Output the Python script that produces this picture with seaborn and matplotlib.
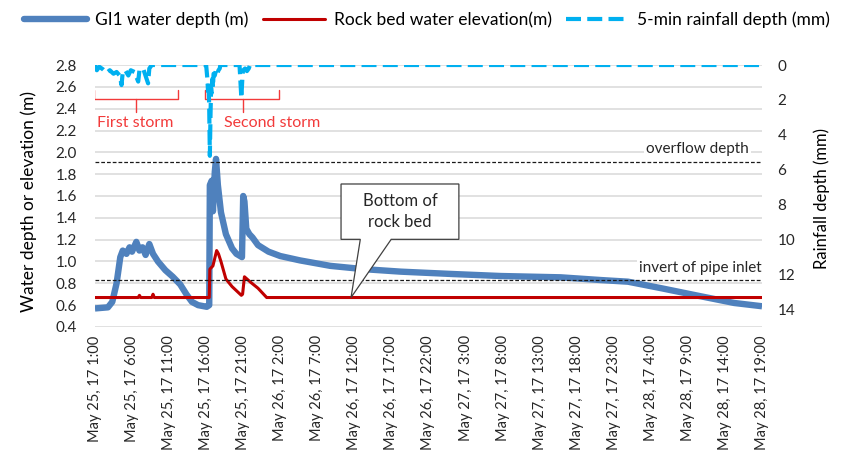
import numpy as np
import pandas as pd
import matplotlib
matplotlib.use("Agg")
import matplotlib.pyplot as plt
import matplotlib.dates as mdates
from matplotlib.patches import Polygon
from matplotlib.lines import Line2D
import seaborn as sns

# ---- GI1 water depth (m) ----
gi1_time = [
    "05-25 01:00", "05-25 02:45", "05-25 03:20", "05-25 03:55", "05-25 04:25",
    "05-25 04:45", "05-25 05:15", "05-25 05:40", "05-25 06:00", "05-25 06:35",
    "05-25 07:00", "05-25 07:25", "05-25 07:50", "05-25 08:20", "05-25 08:50",
    "05-25 09:30", "05-25 10:30", "05-25 11:30", "05-25 12:30", "05-25 13:20",
    "05-25 14:05", "05-25 14:55", "05-25 16:05", "05-25 16:25", "05-25 16:30",
    "05-25 16:45", "05-25 16:55", "05-25 17:10", "05-25 17:20", "05-25 17:35",
    "05-25 18:00", "05-25 18:40", "05-25 19:30", "05-25 20:05", "05-25 20:50",
    "05-25 21:00", "05-25 21:10", "05-25 21:25", "05-25 21:50", "05-25 22:15",
    "05-25 23:00", "05-26 00:25", "05-26 02:00", "05-26 04:40", "05-26 08:45",
    "05-26 13:15", "05-26 18:15", "05-27 01:00", "05-27 07:45", "05-27 15:50",
    "05-27 21:15", "05-28 00:55", "05-28 05:25", "05-28 10:50", "05-28 15:15",
    "05-28 19:00",
]
gi1_depth = [
    0.57, 0.58, 0.63, 0.80, 1.04,
    1.10, 1.07, 1.13, 1.09, 1.18,
    1.10, 1.13, 1.06, 1.16, 1.07,
    1.00, 0.92, 0.86, 0.79, 0.70,
    0.63, 0.60, 0.585, 0.60, 1.70,
    1.74, 1.46, 1.82, 1.94, 1.70,
    1.45, 1.25, 1.12, 1.07, 1.04,
    1.60, 1.55, 1.30, 1.25, 1.22,
    1.15, 1.09, 1.05, 1.01, 0.96,
    0.93, 0.907, 0.886, 0.867, 0.855,
    0.83, 0.815, 0.755, 0.68, 0.62,
    0.59,
]

# ---- Rock bed water elevation (m) ----
rock_time = [
    "05-25 01:00", "05-25 06:50", "05-25 07:00", "05-25 07:10", "05-25 08:40",
    "05-25 08:50", "05-25 09:00", "05-25 16:25", "05-25 16:30", "05-25 16:55",
    "05-25 17:25", "05-25 17:40", "05-25 18:00", "05-25 18:40", "05-25 19:30",
    "05-25 20:45", "05-25 20:55", "05-25 21:10", "05-25 22:00", "05-25 23:00",
    "05-26 00:10", "05-28 19:00",
]
rock_elev = [
    0.67, 0.67, 0.69, 0.67, 0.67,
    0.70, 0.67, 0.67, 0.93, 0.96,
    1.10, 1.07, 1.00, 0.84, 0.77,
    0.69, 0.70, 0.86, 0.81, 0.755,
    0.67, 0.67,
]

# ---- 5-min rainfall depth (mm) ----
rain_time = [
    "05-25 01:00", "05-25 01:15", "05-25 01:35", "05-25 02:05", "05-25 02:35",
    "05-25 03:00", "05-25 03:30", "05-25 03:55", "05-25 04:20", "05-25 04:35",
    "05-25 04:45", "05-25 05:05", "05-25 05:30", "05-25 05:50", "05-25 06:20",
    "05-25 06:50", "05-25 07:00", "05-25 07:30", "05-25 08:10", "05-25 08:20",
    "05-25 08:40", "05-25 16:00", "05-25 16:05", "05-25 16:10", "05-25 16:15",
    "05-25 16:20", "05-25 16:25", "05-25 16:30", "05-25 16:35", "05-25 16:40",
    "05-25 16:45", "05-25 16:50", "05-25 16:55", "05-25 17:00", "05-25 17:10",
    "05-25 17:20", "05-25 17:30", "05-25 17:40", "05-25 17:50", "05-25 17:55",
    "05-25 20:30", "05-25 20:35", "05-25 20:45", "05-25 20:50", "05-25 20:55",
    "05-25 21:00", "05-25 21:15", "05-25 21:30", "05-25 21:45", "05-25 21:55",
    "05-28 19:00",
]
rain_depth = [
    0.0, 0.3, 0.1, 0.25, 0.45,
    0.3, 0.5, 0.4, 0.6, 1.15,
    0.4, 0.3, 0.6, 0.3, 0.4,
    0.95, 0.3, 0.2, 1.05, 0.2,
    0.0, 0.0, 0.4, 0.8, 1.5,
    1.0, 2.5, 5.2, 3.0, 1.3,
    1.6, 0.8, 1.3, 0.5, 0.6,
    0.3, 0.5, 0.3, 0.2, 0.0,
    0.0, 0.6, 1.9, 1.2, 0.5,
    0.3, 0.2, 0.35, 0.2, 0.0,
    0.0,
]

# reference levels (m)
overflow_depth = 1.91
pipe_invert = 0.83
rock_bed_bottom = 0.67

series_names = ["GI1 water depth (m)", "Rock bed water elevation(m)",
                "5-min rainfall depth (mm)"]

YEAR = "2017-"
def to_ts(lst):
    return pd.to_datetime([YEAR + s for s in lst])

gi1_df = pd.DataFrame({"time": to_ts(gi1_time), "value": gi1_depth})
rock_df = pd.DataFrame({"time": to_ts(rock_time), "value": rock_elev})
rain_df = pd.DataFrame({"time": to_ts(rain_time), "value": rain_depth})

BLUE = "#4F81BD"
RED = "#C00000"
CYAN = "#00B0F0"
STORM = "#F23A3A"
TXT = "#262626"
BLUE_LW, RED_LW, RAIN_LW = 4.6, 2.2, 3.0

sns.set_theme(style="white")
plt.rcParams["font.family"] = ["Lato", "DejaVu Sans"]

fig = plt.figure(figsize=(8.54, 4.68), dpi=100)
ax = fig.add_axes([0.1112, 0.3013, 0.7811, 0.5598])

sns.lineplot(data=gi1_df, x="time", y="value", ax=ax, color=BLUE, linewidth=BLUE_LW,
             legend=False, solid_joinstyle="round", solid_capstyle="butt", zorder=3)
sns.lineplot(data=rock_df, x="time", y="value", ax=ax, color=RED, linewidth=RED_LW,
             legend=False, solid_joinstyle="round", zorder=4)

ax2 = ax.twinx()
sns.lineplot(data=rain_df, x="time", y="value", ax=ax2, color=CYAN, linewidth=RAIN_LW,
             legend=False, zorder=5)
rain_dashes = (3.6, 1.5)
ax2.lines[-1].set_dashes(rain_dashes)
ax2.lines[-1].set_dash_capstyle("butt")

# axes ranges and ticks
t0 = pd.Timestamp("2017-05-25 01:00")
t1 = pd.Timestamp("2017-05-28 19:00")
ax.set_xlim(t0, t1)
ax.set_ylim(0.4, 2.8)
ax.set_yticks(np.arange(0.4, 2.81, 0.2))
ax.set_yticklabels([f"{v:.1f}" for v in np.arange(0.4, 2.81, 0.2)])
ax2.set_ylim(15, 0)
ax2.set_yticks(np.arange(0, 15, 2))

tick_times = pd.date_range(t0, t1, freq="5h")
tick_labels = [f"{d:%b} {d.day}, {d:%y} {d.hour}:{d:%M}" for d in tick_times]
ax.set_xticks(tick_times)
ax.set_xticklabels(tick_labels, rotation=90, ha="center", va="top")

ax.grid(axis="y", color="#D9D9D9", linewidth=1.1)
ax.grid(axis="x", visible=False)
ax.set_axisbelow(True)
for a in (ax, ax2):
    for s in a.spines.values():
        s.set_visible(False)
ax2.grid(False)

ax.tick_params(axis="x", length=0, pad=6, labelsize=10.5, labelcolor=TXT)
ax.tick_params(axis="y", length=0, pad=13, labelsize=11, labelcolor=TXT)
ax2.tick_params(axis="y", length=0, pad=11, labelsize=11, labelcolor=TXT)

ax.set_xlabel("")
ax.set_ylabel("Water depth or elevation (m)", fontsize=12.5, color="black")
ax.yaxis.set_label_coords(-0.087, 0.48)
ax2.set_ylabel("Rainfall depth (mm)", fontsize=12, color="black")
ax2.yaxis.set_label_coords(1.0765, 0.49)

# reference levels
dash_ref = dict(color="#1A1A1A", linewidth=0.9, dashes=(3, 1.6), zorder=6)
ax.axhline(overflow_depth, **dash_ref)
ax.axhline(pipe_invert, **dash_ref)
ax.text(pd.Timestamp("2017-05-28 17:15"), overflow_depth + 0.12, "overflow depth",
        ha="right", va="center", fontsize=11, color=TXT, zorder=6,
        bbox=dict(facecolor="white", edgecolor="none", pad=1.5))
ax.text(pd.Timestamp("2017-05-28 18:55"), pipe_invert + 0.11, "invert of pipe inlet",
        ha="right", va="center", fontsize=11, color=TXT, zorder=6,
        bbox=dict(facecolor="white", edgecolor="none", pad=1.5))

# storm brackets
def bracket(x_left, x_mid, x_right, label, x_text):
    xl, xm, xr = (mdates.date2num(pd.Timestamp(v)) for v in (x_left, x_mid, x_right))
    ax.plot([xl, xl, xr, xr], [2.571, 2.489, 2.489, 2.571], color=STORM,
            linewidth=1.0, zorder=4, solid_joinstyle="round")
    ax.plot([xm, xm], [2.489, 2.372], color=STORM, linewidth=1.0, zorder=4)
    ax.text(pd.Timestamp(x_text), 2.27, label, ha="left", va="center",
            fontsize=11.5, color=STORM, zorder=4)

bracket("2017-05-25 00:55", "2017-05-25 06:32", "2017-05-25 12:10", "First storm",
        "2017-05-25 01:15")
bracket("2017-05-25 15:52", "2017-05-25 20:55", "2017-05-26 01:46", "Second storm",
        "2017-05-25 18:26")

# callout pointing at the bottom of the rock bed
box_l = mdates.date2num(pd.Timestamp("2017-05-26 10:12"))
box_r = mdates.date2num(pd.Timestamp("2017-05-27 02:06"))
base_l = mdates.date2num(pd.Timestamp("2017-05-26 12:48"))
base_r = mdates.date2num(pd.Timestamp("2017-05-26 16:58"))
tip_x = mdates.date2num(pd.Timestamp("2017-05-26 11:33"))
box_top, box_bot = 1.71, 1.203
callout = Polygon([(box_l, box_top), (box_r, box_top), (box_r, box_bot),
                   (base_r, box_bot), (tip_x, rock_bed_bottom), (base_l, box_bot),
                   (box_l, box_bot)], closed=True, facecolor="white",
                  edgecolor="#404040", linewidth=0.9, zorder=7)
ax.add_patch(callout)
ax.text((box_l + box_r) / 2, (box_top + box_bot) / 2, "Bottom of\nrock bed",
        ha="center", va="center", fontsize=12, color=TXT, linespacing=1.35, zorder=8)

# legend across the top
handles = [
    Line2D([], [], color=BLUE, linewidth=BLUE_LW),
    Line2D([], [], color=RED, linewidth=RED_LW),
    Line2D([], [], color=CYAN, linewidth=RAIN_LW, dashes=rain_dashes),
]
fig.legend(handles, series_names, loc="center", bbox_to_anchor=(0.5, 1 - 20 / 468),
           ncol=3, frameon=False, fontsize=12.5, handlelength=3.6,
           handletextpad=0.5, columnspacing=0.8, labelcolor="black")

fig.savefig("out.png", dpi=100)
